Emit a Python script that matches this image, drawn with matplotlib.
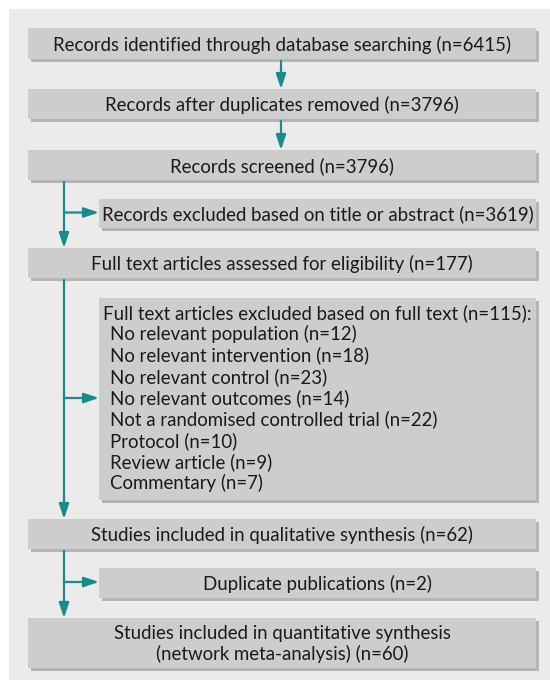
import matplotlib.pyplot as plt
from matplotlib.patches import Rectangle

plt.rcParams['font.family'] = ['Lato', 'DejaVu Sans']

# main flow stages
main_labels = ['Records identified through database searching',
               'Records after duplicates removed',
               'Records screened',
               'Full text articles assessed for eligibility',
               'Studies included in qualitative synthesis',
               'Studies included in quantitative synthesis\n(network meta-analysis)']
main_n = [6415, 3796, 3796, 177, 62, 60]

# side exclusions
excl_labels = ['Records excluded based on title or abstract',
               'Full text articles excluded based on full text',
               'Duplicate publications']
excl_n = [3619, 115, 2]

reasons = ['No relevant population', 'No relevant intervention', 'No relevant control',
           'No relevant outcomes', 'Not a randomised controlled trial', 'Protocol',
           'Review article', 'Commentary']
reason_n = [12, 18, 23, 14, 22, 10, 9, 7]

# layout in pixels (y top, y bottom)
main_y = [(28, 59), (89, 119), (150, 180), (248, 278), (519, 549), (618, 668)]
excl_y = [(199, 228), (298, 500), (568, 598)]
main_x = (28, 536)
excl_x = (99, 536)
trunk_x = 64
teal = '#1b8a8c'
fs = 13.4

fig = plt.figure(figsize=(5.5, 6.8), dpi=100)
ax = fig.add_axes([0, 0, 1, 1])
ax.set_xlim(0, 550)
ax.set_ylim(680, 0)
ax.axis('off')

ax.add_patch(Rectangle((9, 9), 560, 690, facecolor='#ebebeb', edgecolor='none'))


def box(x0, x1, y0, y1):
    ax.add_patch(Rectangle((x0 + 3, y0 + 3), x1 - x0, y1 - y0, facecolor='#b5b5b5', edgecolor='none'))
    ax.add_patch(Rectangle((x0, y0), x1 - x0, y1 - y0, facecolor='#cdcdcd', edgecolor='none'))


def arrow(x0, y0, x1, y1):
    ax.annotate('', xy=(x1, y1), xytext=(x0, y0),
                arrowprops=dict(arrowstyle='-|>,head_length=0.9,head_width=0.3',
                                mutation_scale=10, color=teal, lw=1.6,
                                shrinkA=0, shrinkB=0))


for (y0, y1), lab, n in zip(main_y, main_labels, main_n):
    box(main_x[0], main_x[1], y0, y1)
    ax.text((main_x[0] + main_x[1]) / 2, (y0 + y1) / 2 + 1, f'{lab} (n={n})',
            ha='center', va='center', fontsize=fs, color='#1a1a1a', linespacing=1.25)

for i, ((y0, y1), lab, n) in enumerate(zip(excl_y, excl_labels, excl_n)):
    box(excl_x[0], excl_x[1], y0, y1)
    if i == 1:
        ax.text(103, y0 + 15, f'{lab} (n={n}):', ha='left', va='center',
                fontsize=fs, color='#1a1a1a')
        for j, (r, rn) in enumerate(zip(reasons, reason_n)):
            ax.text(110, y0 + 15 + 21.3 * (j + 1), f'{r} (n={rn})', ha='left', va='center',
                    fontsize=fs, color='#1a1a1a')
    else:
        ax.text((excl_x[0] + excl_x[1]) / 2, (y0 + y1) / 2 + 1, f'{lab} (n={n})',
                ha='center', va='center', fontsize=fs, color='#1a1a1a')

# arrows between the top boxes
cx = 281
for k in range(2):
    arrow(cx, main_y[k][1] + 2, cx, main_y[k + 1][0])

# trunk arrows with side branches
for k in range(3):
    arrow(trunk_x, main_y[k + 2][1] + 2, trunk_x, main_y[k + 3][0])
    yb = (excl_y[k][0] + excl_y[k][1]) / 2 - 1
    arrow(trunk_x, yb, excl_x[0], yb)

fig.savefig('out.png', dpi=100)
